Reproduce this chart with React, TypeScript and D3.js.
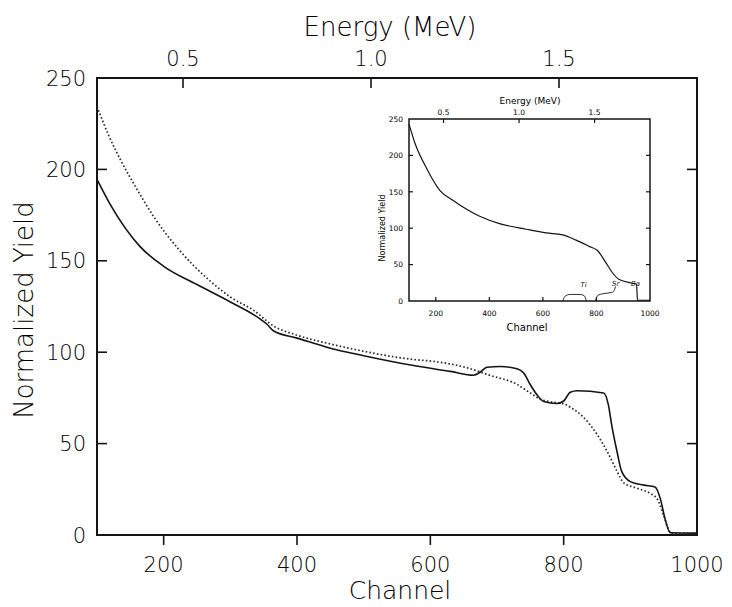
import React from 'react';
import * as d3 from 'd3';

// main spectrum: simulation (solid line)
const simChannel = [100, 120, 165, 200, 250, 300, 345, 355, 365, 400, 450, 500, 575, 630, 665, 675, 685, 705, 730, 740, 750, 760, 770, 790, 800, 810, 820, 860, 867, 872, 880, 887, 900, 920, 937, 945, 952, 960, 1000];
const simYield = [194.5, 180.7, 157.6, 147, 137, 127.5, 118.1, 115.3, 111.6, 107.7, 102.2, 98.1, 92.7, 89.5, 87.4, 89.2, 91.8, 92.2, 90.9, 88.6, 82.2, 76.7, 73.0, 71.9, 73.3, 78.1, 78.9, 77.7, 71.3, 60.3, 45.7, 34.8, 29.2, 27.3, 26.3, 19.9, 8.9, 1.2, 1];

// main spectrum: measured data (dotted)
const dataChannel = [100, 117, 137, 157, 187, 222, 267, 300, 335, 365, 400, 450, 500, 575, 605, 655, 690, 730, 750, 765, 780, 800, 810, 830, 850, 865, 880, 890, 910, 930, 940, 950, 957, 962, 1000];
const dataYield = [234.4, 219, 204, 191, 173.1, 156.5, 139.8, 130.2, 122.9, 114.3, 109.3, 104.5, 100.5, 96, 95, 91.5, 87.3, 82.4, 77.7, 74.3, 72.9, 71.8, 69.9, 64.3, 55.1, 45.9, 34.9, 28.5, 25.6, 22.7, 19.9, 10.7, 3.4, 0.8, 0.8];

// inset: total spectrum and element contributions
const insetChannel = [100, 122, 166, 215, 265, 364, 438, 538, 612, 674, 724, 773, 804, 835, 860, 885, 934, 950, 953, 1000];
const insetYield = [243, 217, 182, 152, 138, 116.4, 106.3, 98.6, 93.6, 90.8, 83.6, 75, 69.3, 52.8, 38.8, 29.4, 24.4, 23, 1, 1];
const tiChannel = [674, 684, 700, 740, 755, 762];
const tiYield = [0, 7, 9, 9, 7, 0];
const srChannel = [796, 806, 825, 860, 868, 871];
const srYield = [0, 8, 10, 12, 16, 20];
const elementNames = ['Ti', 'Sr', 'Ba'];
const elementChannel = [752, 872, 946];
const elementYield = [19, 20, 20];

const yTicks = [0, 50, 100, 150, 200, 250];
const yInnerTicks = [50, 100, 150, 200];
const xTicks = [200, 400, 600, 800, 1000];
const xInnerTicks = [200, 400, 600, 800];
const energyTicks = [0.5, 1.0, 1.5];
const energyLabels = ['0.5', '1.0', '1.5'];

// channel = energyOffset + energySlope * E(MeV)
const energyOffset = -53;
const energySlope = 564;
const toEnergy = (ch: number) => (ch - energyOffset) / energySlope;

const FONT = '"DejaVu Sans", Verdana, sans-serif';
const INK = '#141414';

const pts = (xs: number[], ys: number[]) => xs.map((c, i) => [c, ys[i]] as [number, number]);

function Frame({ box, fs, tick, bottomOut, titles, weight }: any) {
    const x = d3.scaleLinear().domain([100, 1000]).range([box.left, box.right]);
    const y = d3.scaleLinear().domain([0, 250]).range([box.bottom, box.top]);
    const e = d3.scaleLinear().domain([toEnergy(100), toEnergy(1000)]).range([box.left, box.right]);
    const bDir = bottomOut ? 1 : -1;
    return (
        <g fill="#000" fontFamily={FONT} fontWeight={weight}>
            <rect x={box.left} y={box.top} width={box.right - box.left} height={box.bottom - box.top}
                fill="none" stroke={INK} strokeWidth={box.sw} />
            {yInnerTicks.map(t => (
                <g key={'y' + t} stroke={INK} strokeWidth={box.sw * 0.8}>
                    <line x1={box.left} x2={box.left + tick} y1={y(t)} y2={y(t)} />
                    <line x1={box.right} x2={box.right - tick} y1={y(t)} y2={y(t)} />
                </g>
            ))}
            {xInnerTicks.map(t => (
                <line key={'x' + t} x1={x(t)} x2={x(t)} y1={box.bottom} y2={box.bottom + bDir * tick}
                    stroke={INK} strokeWidth={box.sw * 0.8} />
            ))}
            {energyTicks.map(t => (
                <line key={'e' + t} x1={e(t)} x2={e(t)} y1={box.top} y2={box.top + tick}
                    stroke={INK} strokeWidth={box.sw * 0.8} />
            ))}
            {yTicks.map(t => (
                <text key={'yl' + t} x={box.left - fs.gapY} y={y(t)} dy="0.36em" textAnchor="end" fontSize={fs.tick}>{t}</text>
            ))}
            {xTicks.map(t => (
                <text key={'xl' + t} x={x(t)} y={box.bottom + fs.gapX} textAnchor="middle" fontSize={fs.tick}>{t}</text>
            ))}
            {energyTicks.map((t, i) => (
                <text key={'el' + t} x={e(t)} y={box.top - fs.gapE} textAnchor="middle" fontSize={fs.tick}>{energyLabels[i]}</text>
            ))}
            <text x={titles.cx} y={titles.cy} textAnchor="middle" fontSize={fs.titleX}>Channel</text>
            <text x={titles.ex} y={titles.ey} textAnchor="middle" fontSize={fs.titleE}>Energy (MeV)</text>
            <text transform={`translate(${titles.yx},${titles.yy}) rotate(-90)`} textAnchor="middle" fontSize={fs.titleY}>Normalized Yield</text>
        </g>
    );
}

export default function App() {
    const main = { left: 97, right: 697, top: 78, bottom: 535, sw: 2 };
    const inset = { left: 409, right: 650, top: 119, bottom: 301, sw: 1.5 };

    const x = d3.scaleLinear().domain([100, 1000]).range([main.left, main.right]);
    const y = d3.scaleLinear().domain([0, 250]).range([main.bottom, main.top]);
    const ix = d3.scaleLinear().domain([100, 1000]).range([inset.left, inset.right]);
    const iy = d3.scaleLinear().domain([0, 250]).range([inset.bottom, inset.top]);

    const mainLine = d3.line<[number, number]>().x(d => x(d[0])).y(d => y(d[1])).curve(d3.curveMonotoneX);
    const insetLine = d3.line<[number, number]>().x(d => ix(d[0])).y(d => iy(d[1])).curve(d3.curveMonotoneX);

    return (
        <svg width={732} height={607} style={{ position: 'absolute', left: 0, top: 0, background: '#fff' }}>
            <rect width={732} height={607} fill="#fff" />
            <Frame box={main} tick={10} bottomOut={true} weight={300}
                fs={{ tick: 21, gapY: 11, gapX: 37, gapE: 12, titleX: 25, titleE: 26, titleY: 26 }}
                titles={{ cx: 400, cy: 599, ex: 390, ey: 36, yx: 33, yy: 310 }} />
            <path d={mainLine(pts(dataChannel, dataYield)) || ''} fill="none" stroke="#2a2a2a"
                strokeWidth={1.7} strokeDasharray="1.6 2.2" />
            <path d={mainLine(pts(simChannel, simYield)) || ''} fill="none" stroke={INK} strokeWidth={1.6} />

            <Frame box={inset} tick={4} bottomOut={false} weight={400}
                fs={{ tick: 7.5, gapY: 6, gapX: 15, gapE: 4, titleX: 10, titleE: 9, titleY: 8 }}
                titles={{ cx: 527, cy: 331, ex: 530, ey: 104, yx: 385, yy: 228 }} />
            <path d={insetLine(pts(insetChannel, insetYield)) || ''} fill="none" stroke={INK} strokeWidth={1.2} />
            <path d={insetLine(pts(tiChannel, tiYield)) || ''} fill="none" stroke={INK} strokeWidth={0.9} />
            <path d={insetLine(pts(srChannel, srYield)) || ''} fill="none" stroke={INK} strokeWidth={0.9} />
            {elementNames.map((n, i) => (
                <text key={n} x={ix(elementChannel[i])} y={iy(elementYield[i])} textAnchor="middle"
                    fontSize={7} fontStyle="italic" fontFamily={FONT} fill={INK}>{n}</text>
            ))}
        </svg>
    );
}
